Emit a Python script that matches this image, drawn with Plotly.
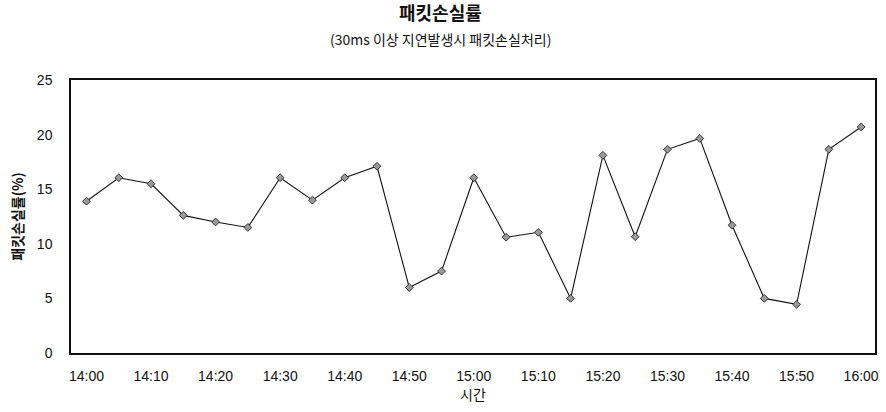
import plotly.graph_objects as go

# Sampling times (every 5 minutes) and packet loss rate (%)
times = ["14:00", "14:05", "14:10", "14:15", "14:20", "14:25", "14:30", "14:35",
         "14:40", "14:45", "14:50", "14:55", "15:00", "15:05", "15:10", "15:15",
         "15:20", "15:25", "15:30", "15:35", "15:40", "15:45", "15:50", "15:55",
         "16:00"]
loss_rate = [13.9, 16.05, 15.5, 12.6, 12.0, 11.5, 16.05, 14.0,
             16.05, 17.1, 6.0, 7.5, 16.05, 10.6, 11.05, 5.0,
             18.1, 10.65, 18.65, 19.65, 11.7, 5.0, 4.45, 18.65,
             20.7]
tick_labels = ["14:00", "14:10", "14:20", "14:30", "14:40", "14:50", "15:00",
               "15:10", "15:20", "15:30", "15:40", "15:50", "16:00"]
y_ticks = [0, 5, 10, 15, 20, 25]

KR = "Noto Sans CJK KR"
LAT = "Liberation Sans, Arial, sans-serif"

fig = go.Figure(go.Scatter(
    x=times, y=loss_rate, mode="lines+markers",
    line=dict(color="#111111", width=1.1),
    marker=dict(symbol="diamond", size=6, color="#9a9a9a",
                line=dict(color="#333333", width=1)),
))

fig.update_layout(
    width=886, height=412,
    margin=dict(l=71, r=7, t=80, b=59),
    paper_bgcolor="white", plot_bgcolor="white",
    showlegend=False,
    annotations=[
        dict(text="<b>패킷손실률</b>", xref="paper", yref="paper", x=0.46, y=1,
             xanchor="center", yanchor="bottom", yshift=53, showarrow=False,
             font=dict(family=KR, size=18, color="#111111")),
        dict(text="(30ms 이상 지연발생시 패킷손실처리)", xref="paper", yref="paper",
             x=0.46, y=1, xanchor="center", yanchor="bottom", yshift=29,
             showarrow=False, font=dict(family=KR, size=14, color="#111111")),
    ],
)

fig.update_xaxes(
    type="category", range=[-0.48, 24.43],
    tickmode="array", tickvals=tick_labels, ticktext=tick_labels,
    tickfont=dict(family=LAT, size=14, color="#111111"),
    ticks="", ticklabelstandoff=9, showgrid=False, zeroline=False,
    showline=True, linecolor="#111111", linewidth=1.5, mirror=True,
    title=dict(text="시간", font=dict(family=KR, size=14, color="#111111"), standoff=8),
)
fig.update_yaxes(
    range=[0, 25], tickmode="array", tickvals=y_ticks,
    tickfont=dict(family=LAT, size=14, color="#111111"),
    ticks="", ticklabelstandoff=14, showgrid=False, zeroline=False,
    showline=True, linecolor="#111111", linewidth=1.5, mirror=True,
    title=dict(text="<b>패킷손실률(%)</b>", font=dict(family=KR, size=14, color="#111111"),
               standoff=10),
)

fig.write_html("out.html")
